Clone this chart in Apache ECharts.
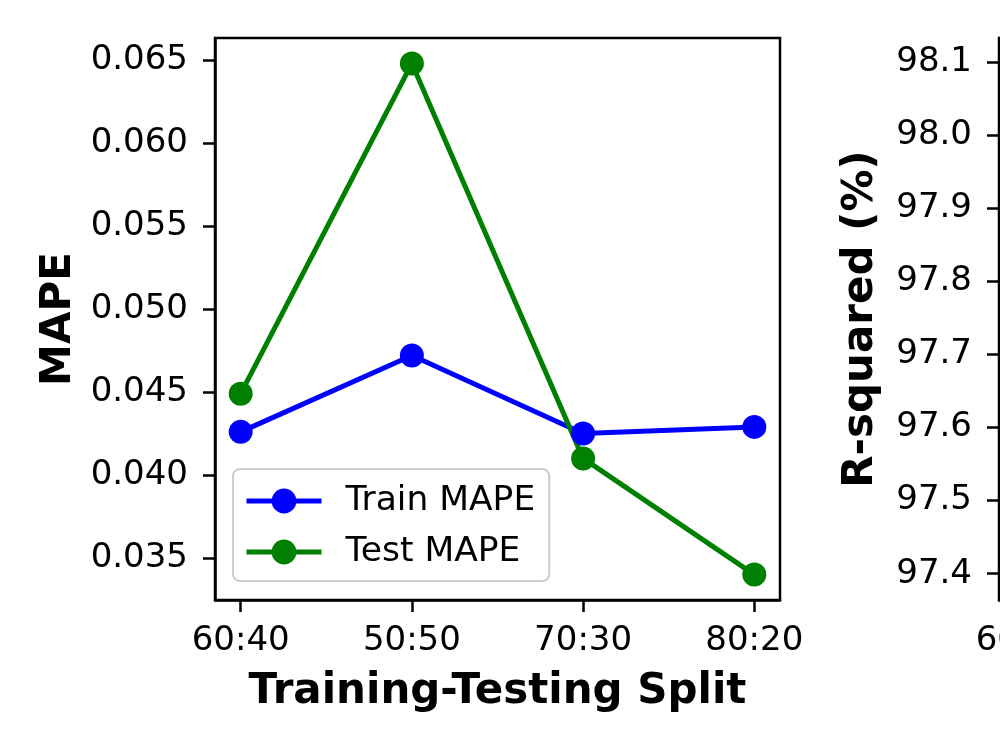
<!DOCTYPE html>
<html>
<head>
<meta charset="utf-8">
<script src="https://cdn.jsdelivr.net/npm/echarts@6/dist/echarts.min.js"></script>
<style>
  html, body { margin: 0; padding: 0; background: #fff; }
  #chart { width: 1000px; height: 750px; }
</style>
</head>
<body>
<div id="chart"></div>
<script>
// train/test splits on the x axis
const splits = ['60:40', '50:50', '70:30', '80:20'];
const trainMape = [0.0426, 0.0472, 0.0425, 0.0429];
const testMape = [0.0449, 0.0648, 0.0410, 0.0340];
const mapeTicks = [0.035, 0.040, 0.045, 0.050, 0.055, 0.060, 0.065];
const r2Ticks = [97.4, 97.5, 97.6, 97.7, 97.8, 97.9, 98.0, 98.1];

const FONT = 'DejaVu Sans';
const splitIdx = splits.map((s, i) => i);

function toPoints(values) {
    return values.map((v, i) => [i, v]);
}

const tickStyle = {
    show: true,
    length: 12,
    lineStyle: { color: '#000', width: 2.5 }
};

const nameStyle = { fontFamily: FONT, fontSize: 42, fontWeight: 'bold', color: '#000' };

function xAxisFor(gridIndex) {
    return {
        type: 'value',
        gridIndex,
        min: -0.15,
        max: 3.15,
        splitLine: { show: false },
        axisLine: { show: true, onZero: false, lineStyle: { color: '#000', width: 2.5 } },
        axisTick: Object.assign({ customValues: splitIdx }, tickStyle),
        axisLabel: {
            customValues: splitIdx,
            margin: 24,
            hideOverlap: false,
            color: '#000',
            fontFamily: FONT,
            fontSize: 34,
            formatter: (v) => splits[Math.round(v)]
        }
    };
}

function yAxisFor(gridIndex, min, max, ticks, digits, name, gap) {
    return {
        type: 'value',
        gridIndex,
        min,
        max,
        name,
        nameLocation: 'middle',
        nameGap: gap,
        nameTextStyle: nameStyle,
        splitLine: { show: false },
        axisLine: { show: true, onZero: false, lineStyle: { color: '#000', width: 2.5 } },
        axisTick: Object.assign({ customValues: ticks }, tickStyle),
        axisLabel: {
            customValues: ticks,
            margin: 27,
            color: '#000',
            fontFamily: FONT,
            fontSize: 34,
            formatter: (v) => v.toFixed(digits)
        }
    };
}

function lineSeries(name, values, color) {
    return {
        name,
        type: 'line',
        xAxisIndex: 0,
        yAxisIndex: 0,
        data: toPoints(values),
        symbol: 'circle',
        symbolSize: 24,
        color,
        lineStyle: { width: 5, color },
        itemStyle: { color }
    };
}

const option = {
    animation: false,
    backgroundColor: '#fff',
    grid: [
        {
            left: 215, top: 38, width: 565, height: 562,
            outerBoundsMode: 'none',
            show: true, borderColor: '#000', borderWidth: 2.5
        },
        {
            left: 999, top: 38, width: 565, height: 562,
            outerBoundsMode: 'none',
            show: true, borderColor: '#000', borderWidth: 2.5
        }
    ],
    legend: {
        orient: 'vertical',
        left: 233,
        top: 469,
        padding: [13, 14, 10, 11],
        itemGap: 13,
        itemWidth: 75,
        itemHeight: 31,
        lineStyle: { width: 5 },
        backgroundColor: 'rgba(255,255,255,0.8)',
        borderColor: '#cccccc',
        borderWidth: 2,
        borderRadius: 7,
        textStyle: {
            fontFamily: FONT,
            fontSize: 34.5,
            color: '#000',
            lineHeight: 38,
            padding: [0, 0, 0, 19]
        },
        data: ['Train MAPE', 'Test MAPE']
    },
    xAxis: [
        Object.assign(xAxisFor(0), {
            name: 'Training-Testing Split',
            nameLocation: 'middle',
            nameGap: 71,
            nameTextStyle: nameStyle
        }),
        xAxisFor(1)
    ],
    yAxis: [
        yAxisFor(0, 0.03247, 0.06633, mapeTicks, 3, 'MAPE', 133),
        yAxisFor(1, 97.364, 98.133, r2Ticks, 1, 'R-squared (%)', 117)
    ],
    series: [
        lineSeries('Train MAPE', trainMape, '#0000ff'),
        lineSeries('Test MAPE', testMape, '#008000')
    ]
};

const chart = echarts.init(document.getElementById('chart'));
chart.setOption(option);
</script>
</body>
</html>
